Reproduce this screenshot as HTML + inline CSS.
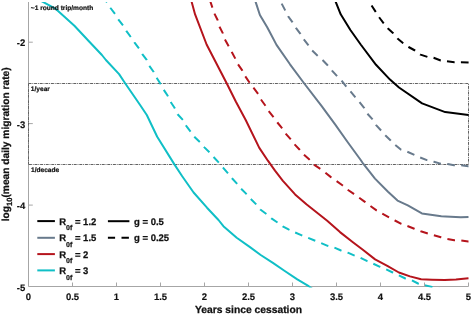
<!DOCTYPE html>
<html><head><meta charset="utf-8"><style>
html,body{margin:0;padding:0;background:#fff;width:472px;height:314px;overflow:hidden}
svg{display:block}
</style></head><body>
<svg width="472" height="314" viewBox="0 0 472 314" text-rendering="geometricPrecision">
<rect width="472" height="314" fill="#fff"/>
<g fill="none" stroke="#a6a6a6" stroke-width="1">
<path d="M28.5 2V286.5H468.5"/>
<path d="M28.8 42.2h4"/>
<path d="M28.8 123.6h4"/>
<path d="M28.8 205.1h4"/>
<path d="M28.8 286.5h4"/>
<path d="M72.5 286.5v-4"/>
<path d="M116.5 286.5v-4"/>
<path d="M160.5 286.5v-4"/>
<path d="M204.5 286.5v-4"/>
<path d="M248.5 286.5v-4"/>
<path d="M292.5 286.5v-4"/>
<path d="M336.5 286.5v-4"/>
<path d="M380.5 286.5v-4"/>
<path d="M424.5 286.5v-4"/>
<path d="M468.5 286.5v-4"/>
</g>
<g fill="none" stroke="#626262" stroke-width="1" stroke-dasharray="3 0.85 0.9 0.85">
<path d="M28.5 83.5H468.5V164.5H28.5"/>
<path d="M28.5 83.5V164.5"/>
</g>
<g fill="none" stroke-width="2" stroke-linejoin="round" clip-path="url(#c)">
<clipPath id="c"><rect x="28.8" y="2" width="441" height="285.5"/></clipPath>
<polyline points="39.4,0.0 42.9,1.9 55.3,8.6 74.4,25.8 89.6,42.0 101.9,55.0 105.9,60.0 119.1,74.1 124.8,82.7 140.1,105.0 146.8,115.0 157.2,136.7 174.4,164.4 182.2,176.2 193.6,192.5 207.0,207.7 218.5,220.0 223.4,226.2 236.7,237.7 250.0,247.1 260.7,255.0 272.9,262.9 284.4,270.8 297.3,279.4 308.7,286.2 312.0,288.5" stroke="#10bfc6"/>
<polyline points="105.6,0.0 106.7,1.9 110.5,8.0 115.3,14.3 118.1,19.1 123.3,25.8 126.3,30.9 130.9,37.2 134.4,42.4 139.1,48.7 142.3,54.2 146.7,59.9 149.2,65.7 153.7,72.0 156.2,77.1 160.6,84.0 163.3,89.1 167.7,95.8 170.3,101.5 174.5,107.7 177.6,114.3 183.0,120.0 186.2,125.8 191.0,132.1 194.8,137.2 200.2,142.4 204.4,147.4 209.7,152.5 213.8,157.3 218.6,162.4 223.0,167.6 227.6,172.9 232.0,178.3 236.7,183.4 240.9,188.6 246.3,193.9 250.5,198.7 256.2,204.4 260.3,209.5 266.8,214.3 271.8,218.7 277.5,222.5 282.7,226.3 289.0,229.6 295.1,232.5 301.8,235.3 308.1,237.8 314.6,240.5 320.9,243.0 327.6,245.8 334.2,247.6 341.0,250.5 347.8,252.7 354.6,255.6 360.5,257.8 367.3,261.2 373.2,263.7 380.0,266.8 385.9,269.2 392.7,272.5 398.9,275.4 405.4,278.5 411.6,280.1 418.0,283.5 425.6,285.4 432.0,287.0 444.0,290.0" stroke="#10bfc6" stroke-dasharray="7.7 6.34" stroke-dashoffset="4.97"/>
<polyline points="191.2,0.0 191.7,2.1 195.1,14.4 206.6,44.5 226.8,83.5 235.8,101.5 245.7,120.0 259.3,147.9 267.9,160.7 275.0,170.7 282.9,180.8 295.1,194.4 306.4,204.3 327.2,220.8 340.0,232.1 352.9,242.2 362.2,249.3 375.1,259.4 387.3,265.8 398.9,272.5 410.0,276.4 421.1,279.3 432.0,279.7 444.7,280.1 456.0,279.6 468.5,278.3" stroke="#b5141c"/>
<polyline points="209.9,0.0 210.5,1.9 212.4,7.6 214.3,13.4 217.6,20.0 219.5,26.7 222.9,33.4 224.9,39.5 228.4,45.8 231.9,52.3 235.3,58.6 238.0,64.3 242.4,70.6 245.3,76.3 249.7,82.8 253.6,87.9 258.4,94.3 260.8,99.3 265.5,105.8 268.4,110.8 273.3,116.9 277.4,122.5 282.0,128.2 285.6,133.5 290.6,139.2 294.5,144.3 299.7,149.7 304.0,154.8 309.4,159.6 314.3,164.9 320.6,169.1 325.2,172.5 330.9,177.1 336.3,180.9 342.4,185.3 347.7,189.7 353.8,193.9 359.2,197.7 364.9,201.9 371.1,206.5 376.5,210.4 381.9,213.4 389.0,217.3 394.9,220.5 401.3,223.8 407.2,225.9 414.3,228.7 420.8,231.3 427.9,233.5 433.8,235.2 440.9,237.2 447.4,238.9 454.3,240.2 460.8,240.4 468.3,241.5 468.5,241.5" stroke="#b5141c" stroke-dasharray="7.7 6.33" stroke-dashoffset="13.67"/>
<polyline points="255.0,0.0 255.7,2.1 259.9,15.0 267.2,27.2 270.0,32.5 276.5,44.9 290.0,64.3 303.5,82.5 321.5,105.8 335.1,124.4 347.2,141.5 360.7,160.0 363.2,163.7 375.0,178.6 388.0,191.8 397.5,200.6 407.8,205.4 421.9,213.4 441.3,216.2 445.6,216.5 460.8,217.3 468.5,216.9" stroke="#687a8c"/>
<polyline points="279.8,0.0 281.8,3.9 285.2,10.4 288.2,16.3 292.6,22.3 295.9,27.8 300.4,33.8 303.7,39.2 308.1,44.9 312.1,50.5 317.6,55.7 322.4,59.9 327.6,65.3 332.0,70.6 337.1,76.2 341.5,80.5 346.3,86.7 350.1,91.0 355.4,97.4 359.3,101.9 364.3,108.1 367.4,113.7 373.1,120.0 376.1,125.1 381.2,130.6 385.5,135.5 390.7,140.5 395.1,144.9 400.8,149.6 407.2,151.7 413.8,154.6 419.8,157.3 426.9,160.1 433.9,161.8 440.4,163.6 447.6,164.1 454.1,165.2 461.0,165.2 468.3,166.2 468.5,166.2" stroke="#687a8c" stroke-dasharray="7.7 6.33" stroke-dashoffset="9.93"/>
<polyline points="335.0,0.0 335.9,2.3 340.7,14.3 350.4,30.0 360.7,44.5 376.0,64.8 390.0,79.6 399.0,87.5 422.1,103.4 445.2,112.1 468.5,115.1" stroke="#000000"/>
<polyline points="368.0,0.0 371.4,5.2 375.4,11.4 379.0,17.1 383.7,23.3 388.0,28.5 393.2,33.2 397.5,38.4 403.2,43.2 408.6,47.0 415.0,50.5 420.5,54.6 427.6,57.0 433.6,57.7 440.7,60.5 446.6,61.2 454.4,62.2 460.9,62.2 469.2,62.4 468.5,62.4" stroke="#000000" stroke-dasharray="7.7 6.27" stroke-dashoffset="7.43"/>
</g>
<g font-family="Liberation Sans, Arial, Helvetica, sans-serif" font-weight="bold" fill="#111" stroke="#111" stroke-width="0.25">
<text x="25.2" y="46.4" font-size="9.5" text-anchor="end" stroke-width="0.15">-2</text>
<text x="25.2" y="127.8" font-size="9.5" text-anchor="end" stroke-width="0.15">-3</text>
<text x="25.2" y="209.3" font-size="9.5" text-anchor="end" stroke-width="0.15">-4</text>
<text x="25.2" y="290.7" font-size="9.5" text-anchor="end" stroke-width="0.15">-5</text>
<text x="28.5" y="299.6" font-size="9.5" text-anchor="middle" stroke-width="0.15">0</text>
<text x="72.5" y="299.6" font-size="9.5" text-anchor="middle" stroke-width="0.15">0.5</text>
<text x="116.5" y="299.6" font-size="9.5" text-anchor="middle" stroke-width="0.15">1</text>
<text x="160.5" y="299.6" font-size="9.5" text-anchor="middle" stroke-width="0.15">1.5</text>
<text x="204.5" y="299.6" font-size="9.5" text-anchor="middle" stroke-width="0.15">2</text>
<text x="248.5" y="299.6" font-size="9.5" text-anchor="middle" stroke-width="0.15">2.5</text>
<text x="292.5" y="299.6" font-size="9.5" text-anchor="middle" stroke-width="0.15">3</text>
<text x="336.5" y="299.6" font-size="9.5" text-anchor="middle" stroke-width="0.15">3.5</text>
<text x="380.5" y="299.6" font-size="9.5" text-anchor="middle" stroke-width="0.15">4</text>
<text x="424.5" y="299.6" font-size="9.5" text-anchor="middle" stroke-width="0.15">4.5</text>
<text x="468.5" y="299.6" font-size="9.5" text-anchor="middle" stroke-width="0.15">5</text>
<text x="248.5" y="312.8" font-size="10.3" text-anchor="middle">Years since cessation</text>
<text transform="translate(9,144.3) rotate(-90)" font-size="10.2" text-anchor="middle">log<tspan font-size="7.6" dy="2.8">10</tspan><tspan dy="-2.8">(mean daily migration rate)</tspan></text>
<g font-size="6.6" stroke="#111" stroke-width="0.2">
<text x="30.8" y="10">~1 round trip/month</text>
<text x="30.8" y="90.6">1/year</text>
<text x="31" y="171.8">1/decade</text>
</g>
</g>
<path d="M37.3 221.1H54.9" stroke="#000000" stroke-width="2"/>
<text x="59.2" y="224.6" font-family="Liberation Sans, Arial, sans-serif" font-weight="bold" font-size="9.5" fill="#111" stroke="#111" stroke-width="0.25">R<tspan font-size="7" dy="5.6">0f</tspan><tspan dy="-5.6"> = 1.2</tspan></text>
<path d="M37.3 237.8H54.9" stroke="#687a8c" stroke-width="2"/>
<text x="59.2" y="241.3" font-family="Liberation Sans, Arial, sans-serif" font-weight="bold" font-size="9.5" fill="#111" stroke="#111" stroke-width="0.25">R<tspan font-size="7" dy="5.6">0f</tspan><tspan dy="-5.6"> = 1.5</tspan></text>
<path d="M37.3 254.1H54.9" stroke="#b5141c" stroke-width="2"/>
<text x="59.2" y="257.6" font-family="Liberation Sans, Arial, sans-serif" font-weight="bold" font-size="9.5" fill="#111" stroke="#111" stroke-width="0.25">R<tspan font-size="7" dy="5.6">0f</tspan><tspan dy="-5.6"> = 2</tspan></text>
<path d="M37.3 270.4H54.9" stroke="#10bfc6" stroke-width="2"/>
<text x="59.2" y="273.9" font-family="Liberation Sans, Arial, sans-serif" font-weight="bold" font-size="9.5" fill="#111" stroke="#111" stroke-width="0.25">R<tspan font-size="7" dy="5.6">0f</tspan><tspan dy="-5.6"> = 3</tspan></text>
<path d="M107.9 221.2H129.4" stroke="#000" stroke-width="2"/>
<path d="M107.9 237.8H115.1M121.5 237.8H128.9" stroke="#000" stroke-width="2"/>
<text x="134" y="224.7" font-family="Liberation Sans, Arial, sans-serif" font-weight="bold" font-size="9.5" fill="#111" stroke="#111" stroke-width="0.25">g = 0.5</text>
<text x="134" y="241.3" font-family="Liberation Sans, Arial, sans-serif" font-weight="bold" font-size="9.5" fill="#111" stroke="#111" stroke-width="0.25">g = 0.25</text>
</svg>
</body></html>
